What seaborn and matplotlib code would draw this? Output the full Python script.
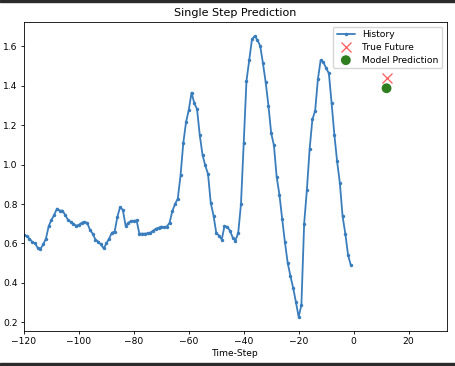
import numpy as np
import pandas as pd
import matplotlib
matplotlib.use("Agg")
import matplotlib.pyplot as plt
import seaborn as sns
from matplotlib.patches import Rectangle

# valores
history = [
    0.645, 0.637, 0.625, 0.608, 0.600, 0.578, 0.573, 0.595, 0.625, 0.688,
    0.720, 0.745, 0.777, 0.767, 0.767, 0.745, 0.720, 0.710, 0.700, 0.690,
    0.695, 0.705, 0.710, 0.705, 0.670, 0.650, 0.620, 0.610, 0.595, 0.575,
    0.600, 0.625, 0.655, 0.660, 0.735, 0.785, 0.770, 0.690, 0.705, 0.715,
    0.715, 0.717, 0.650, 0.650, 0.650, 0.652, 0.655, 0.665, 0.675, 0.680,
    0.686, 0.683, 0.686, 0.705, 0.764, 0.800, 0.828, 0.946, 1.110, 1.216,
    1.278, 1.366, 1.312, 1.283, 1.150, 1.050, 0.996, 0.953, 0.806, 0.742,
    0.654, 0.640, 0.620, 0.688, 0.685, 0.665, 0.630, 0.615, 0.654, 0.800,
    1.110, 1.425, 1.530, 1.636, 1.653, 1.633, 1.603, 1.515, 1.418, 1.300,
    1.160, 1.098, 0.937, 0.848, 0.725, 0.607, 0.502, 0.435, 0.375, 0.303,
    0.227, 0.288, 0.700, 0.873, 1.080, 1.230, 1.273, 1.433, 1.530, 1.520,
    1.490, 1.464, 1.312, 1.152, 1.017, 0.907, 0.738, 0.649, 0.540, 0.490,
]
time_steps = list(range(-120, 0))
future_step = [12]
true_future = [1.442]
model_prediction = [1.388]

x_ticks = [-120, -100, -80, -60, -40, -20, 0, 20]
y_ticks = [0.2, 0.4, 0.6, 0.8, 1.0, 1.2, 1.4, 1.6]

sns.set_style("ticks")
plt.rcParams.update({
    "font.family": ["DejaVu Sans"],
    "font.size": 6.6,
    "axes.edgecolor": "black",
    "axes.linewidth": 0.6,
    "xtick.major.size": 2.5,
    "ytick.major.size": 2.5,
    "xtick.major.width": 0.6,
    "ytick.major.width": 0.6,
    "xtick.color": "black",
    "ytick.color": "black",
    "text.color": "black",
    "axes.labelcolor": "black",
})

df_hist = pd.DataFrame({"t": time_steps, "y": history})

fig = plt.figure(figsize=(4.56, 3.66), dpi=100)
ax = fig.add_axes([0.0526, 0.0956, 0.9276, 0.8443])

sns.lineplot(data=df_hist, x="t", y="y", ax=ax, marker=".", markersize=5,
             markeredgewidth=0, linewidth=1.3, color="#3a7dbd", label="History")
ax.plot(future_step, true_future, "x", color="#ff3030", markersize=7,
        markeredgewidth=0.9, label="True Future", alpha=0.8)
sns.scatterplot(x=future_step, y=model_prediction, ax=ax, s=50,
                color="#2e7d1f", edgecolor="none", label="Model Prediction")

ax.set_xlim(-120, 34)
ax.set_xticks(x_ticks)
ax.set_yticks(y_ticks)
ax.set_yticklabels([f"{v:.1f}" for v in y_ticks])
ax.set_xlabel("Time-Step", fontsize=6.6, labelpad=2)
ax.set_ylabel("")
ax.set_title("Single Step Prediction", fontsize=8, pad=4)
ax.tick_params(labelsize=6.6, pad=2)
for s in ax.spines.values():
    s.set_visible(True)

ax.legend(loc="upper right", fontsize=6.6, frameon=True, handlelength=2.0,
          borderpad=0.4, labelspacing=0.4, framealpha=0.8, edgecolor="#cccccc")

# bordas escuras da captura de tela
fig.patches.append(Rectangle((0, 1 - 2 / 366), 1, 2 / 366, transform=fig.transFigure,
                             color="#2b2b2b", zorder=10))
fig.patches.append(Rectangle((0, 0), 1, 3 / 366, transform=fig.transFigure,
                             color="#2b2b2b", zorder=10))

fig.savefig("out.png", dpi=100)
plt.close(fig)
